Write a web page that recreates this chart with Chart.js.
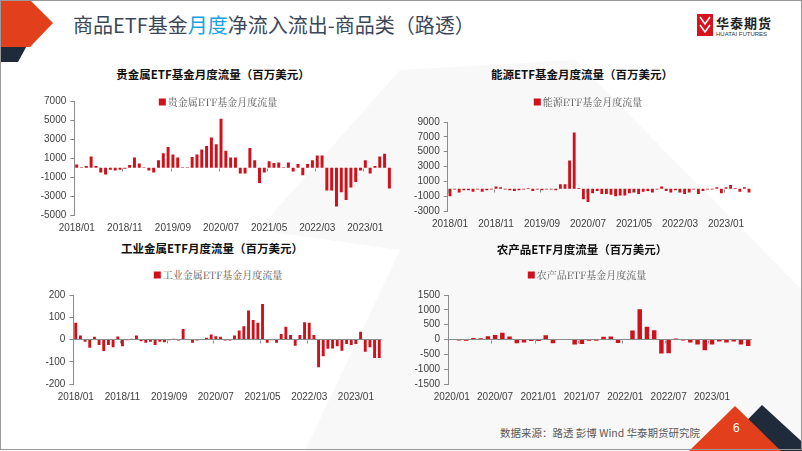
<!DOCTYPE html>
<html>
<head>
<meta charset="utf-8">
<script src="https://cdn.jsdelivr.net/npm/chart.js@4.4.0/dist/chart.umd.min.js"></script>
<style>
html, body { margin: 0; padding: 0; background: #fff; }
#slide { position: relative; width: 802px; height: 451px; overflow: hidden; background: #fff;
  font-family: "Noto Sans CJK SC", "Noto Sans", sans-serif; }
#bg { position: absolute; left: 0; top: 0; }
canvas { position: absolute; }
.ttl { position: absolute; transform: translate(-50%, -50%); font-weight: bold; font-size: 11.5px; color: #111; white-space: nowrap; }
.lg { position: absolute; transform: translate(-50%, -50%); font-size: 10px; color: #595959; white-space: nowrap;
  font-family: "Noto Serif CJK SC", "Noto Sans CJK SC", serif; }
.lg i { display: inline-block; width: 7px; height: 7px; background: #cf111b; margin-right: 2px; }
#title { position: absolute; left: 73px; top: 10px; font-size: 20px; color: #3b4758; white-space: nowrap; }
#title span { color: #1ba1e2; }
#logo1 { position: absolute; left: 716px; top: 13px; font-size: 13px; font-weight: bold; color: #222; letter-spacing: 1px; }
#logo2 { position: absolute; left: 716px; top: 31px; font-size: 6px; color: #333; white-space: nowrap; font-family: "Liberation Sans", Arial, sans-serif; }
#src { position: absolute; left: 500px; top: 425px; font-size: 10.5px; color: #595959; white-space: nowrap; }
#page { position: absolute; left: 733px; top: 421px; font-size: 12px; color: #fff; font-family: "Liberation Sans", Arial, sans-serif; }
</style>
</head>
<body>
<div id="slide">
  <svg id="bg" width="802" height="451">
    <polygon points="400,70 575,60 802,290 802,451 305,451 400,250 258,230" fill="#f8f8f8"/>
    <polygon points="0,40 30,40 18,62 0,62" fill="#1f2a3a"/>
    <polygon points="0,0 30,0 53,23 30,47 0,47" fill="#e2401d"/>
    <polygon points="762,405 812,451 717,451" fill="#1f2a3a"/>
    <polygon points="735,406 781,451 689,451" fill="#e2401d"/>
    <rect x="697" y="14" width="16" height="22" fill="#d7141e"/>
    <path d="M700 17 L705 24 L710 17 M700 25 L705 32 L710 25" stroke="#fff" stroke-width="1.5" fill="none"/>
    <rect x="0.5" y="0.5" width="801" height="449" fill="none" stroke="#9a9a9a" stroke-width="1"/>
  </svg>

  <div id="title">商品ETF基金<span>月度</span>净流入流出-商品类（路透）</div>
  <div id="logo1">华泰期货</div>
  <div id="logo2">HUATAI FUTURES</div>

  <canvas id="c1" width="380" height="147" style="left:20px;top:90px"></canvas>
  <canvas id="c2" width="365" height="121" style="left:395px;top:112px"></canvas>
  <canvas id="c3" width="370" height="121" style="left:20px;top:285px"></canvas>
  <canvas id="c4" width="365" height="121" style="left:395px;top:285px"></canvas>

  <div class="ttl" style="left:213px;top:74px">贵金属ETF基金月度流量（百万美元）</div>
  <div class="lg" style="left:218px;top:101px"><i></i>贵金属ETF基金月度流量</div>
  <div class="ttl" style="left:582px;top:74px">能源ETF基金月度流量（百万美元）</div>
  <div class="lg" style="left:588px;top:101px"><i></i>能源ETF基金月度流量</div>
  <div class="ttl" style="left:212px;top:248px">工业金属ETF月度流量（百万美元）</div>
  <div class="lg" style="left:218px;top:274px"><i></i>工业金属ETF基金月度流量</div>
  <div class="ttl" style="left:582px;top:249px">农产品ETF月度流量（百万美元）</div>
  <div class="lg" style="left:587px;top:274px"><i></i>农产品ETF基金月度流量</div>

  <div id="src">数据来源：路透 彭博 Wind 华泰期货研究院</div>
  <div id="page">6</div>
</div>

<script>
// months 2018/01 - 2023/06
const months = [
  "2018/01","2018/02","2018/03","2018/04","2018/05","2018/06","2018/07","2018/08","2018/09","2018/10","2018/11","2018/12",
  "2019/01","2019/02","2019/03","2019/04","2019/05","2019/06","2019/07","2019/08","2019/09","2019/10","2019/11","2019/12",
  "2020/01","2020/02","2020/03","2020/04","2020/05","2020/06","2020/07","2020/08","2020/09","2020/10","2020/11","2020/12",
  "2021/01","2021/02","2021/03","2021/04","2021/05","2021/06","2021/07","2021/08","2021/09","2021/10","2021/11","2021/12",
  "2022/01","2022/02","2022/03","2022/04","2022/05","2022/06","2022/07","2022/08","2022/09","2022/10","2022/11","2022/12",
  "2023/01","2023/02","2023/03","2023/04","2023/05","2023/06"
];
const agriMonths = months.slice(24);

const precious = [350, 50, 200, 1200, 200, -500, -700, -200, -300, -200,
  -100, 300, 1100, 450, 50, -300, -500, 800, 1550, 2200,
  1400, 1100, 50, 50, 1150, 1400, 1950, 2300, 3200, 2500,
  5200, 1800, 1100, 1100, -600, -600, 2100, 800, -1600, -500,
  700, 500, 550, 50, 550, -400, 400, -800, 400, 800,
  1300, 1300, -2400, -2400, -4100, -2600, -3400, -2100, -1500, -300,
  800, -600, 200, 1200, 1500, -2200];

const energy = [-1000, -100, -500, -200, -200, -400, -100, -400, -200, -100,
  300, 200, -100, -200, -300, -200, -100, 100, -300, -100,
  -200, -100, -100, -200, 600, 600, 3800, 7600, 100, -1400,
  -1800, -600, -300, -700, -700, -800, -1000, -900, -900, -600,
  -500, -700, -400, -300, -500, -100, 300, -300, -500, -200,
  -500, -700, -500, -100, -700, -300, -100, -100, 200, -600,
  200, 500, 100, -400, 200, -500];

const industrial = [75, 18, -10, -37, 12, -25, -52, -25, -35, 14,
  -30, -3, 3, 18, -8, -15, -10, -25, -10, -12,
  -3, 3, -5, 47, -2, -15, -5, 2, 8, 22,
  15, 12, -5, -5, 18, 40, 60, 130, 88, 75,
  160, -15, -3, -15, 25, 57, 20, -28, 20, 78,
  75, 20, -125, -75, -42, -40, -30, -50, -20, -25,
  -20, 35, -55, -35, -83, -83];

const agri = [-20, -30, -40, 50, 40, 110, 150, 230, 100, -130,
  -100, -50, -50, 140, -130, -20, 20, -170, -150, -40,
  -40, 90, 100, -120, 20, 300, 1020, 430, 310, -470,
  -460, 30, -30, -100, -170, -360, -170, -70, -100, -70,
  -170, -220];

const barColor = "#cf111b";
const axisColor = "#8c8c8c";
const tickFont = { family: "'Liberation Sans', Arial, sans-serif", size: 10 };

// little tick marks on the zero line, between categories (excel style)
const zeroTicks = {
  id: "zeroTicks",
  afterDatasetsDraw(chart, args, opts) {
    const x = chart.scales.x;
    const y = chart.scales.y;
    const ctx = chart.ctx;
    const y0 = Math.round(y.getPixelForValue(0)) + 0.5;
    const half = (x.getPixelForValue(1) - x.getPixelForValue(0)) / 2;
    ctx.save();
    ctx.strokeStyle = axisColor;
    ctx.lineWidth = 1;
    for (let i = 0; i < chart.data.labels.length; i += opts.step) {
      const px = Math.round(x.getPixelForValue(i) - half) + 0.5;
      ctx.beginPath();
      ctx.moveTo(px, y0);
      ctx.lineTo(px, y0 + 3);
      ctx.stroke();
    }
    ctx.restore();
  }
};

function makeChart(id, labels, values, yMin, yMax, yStep, yWidth, padTop, padRight, step) {
  return new Chart(document.getElementById(id), {
    type: "bar",
    data: {
      labels: labels,
      datasets: [{
        data: values,
        backgroundColor: barColor,
        borderWidth: 0,
        categoryPercentage: 1,
        barPercentage: 0.62
      }]
    },
    plugins: [zeroTicks],
    options: {
      responsive: false,
      animation: false,
      devicePixelRatio: 1,
      layout: { padding: { top: padTop, right: padRight, bottom: 0, left: 0 } },
      plugins: {
        legend: { display: false },
        tooltip: { enabled: false },
        zeroTicks: { step: step }
      },
      scales: {
        x: {
          grid: { display: false, drawTicks: false },
          border: { display: false },
          ticks: {
            autoSkip: false,
            maxRotation: 0,
            minRotation: 0,
            padding: 7,
            color: "#404040",
            font: tickFont,
            callback: function(val, i) {
              return i % step === 0 ? labels[i] : "";
            }
          },
          afterFit: function(s) { s.height = 22; }
        },
        y: {
          min: yMin,
          max: yMax,
          grid: {
            drawOnChartArea: true,
            drawTicks: true,
            tickLength: 4,
            tickColor: axisColor,
            color: function(c) {
              return c.tick && c.tick.value === 0 ? axisColor : "rgba(0,0,0,0)";
            }
          },
          border: { display: true, color: axisColor },
          ticks: {
            stepSize: yStep,
            autoSkip: false,
            padding: 4,
            color: "#404040",
            font: tickFont,
            callback: function(v) { return String(v); }
          },
          afterFit: function(s) { s.width = yWidth; }
        }
      }
    }
  });
}

makeChart("c1", months, precious, -5000, 7000, 2000, 54.3, 11.7, 8.2, 10);
makeChart("c2", months, energy, -3000, 9000, 2000, 52.7, 8.3, 8.7, 10);
makeChart("c3", months, industrial, -200, 200, 100, 53.4, 7.7, 8.4, 10);
makeChart("c4", agriMonths, agri, -1500, 1500, 500, 53.1, 7.7, 8.2, 6);
</script>
</body>
</html>
